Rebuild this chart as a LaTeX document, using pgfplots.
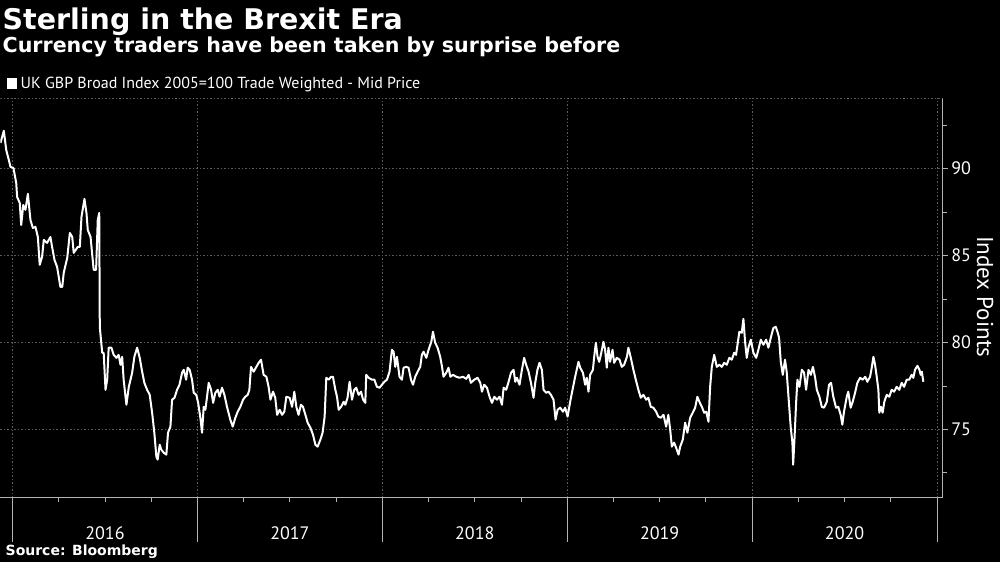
\documentclass[border=0pt]{standalone}
\usepackage{fontspec}
\setmainfont{PT Sans}
\newfontfamily\titlefont{DejaVu Sans}
\usepackage{pgfplots}
\pgfplotsset{compat=1.18}
\definecolor{gridc}{HTML}{5A5A5A}
\definecolor{axisc}{HTML}{B4B4B4}
\begin{document}
\begin{tikzpicture}
\fill[black] (0,0) rectangle (1000pt,562pt);
\begin{axis}[
  at={(0pt,64pt)}, anchor=south west,
  scale only axis, width=942.7pt, height=399.7pt,
  xmin=2015.935, xmax=2021.031, ymin=71.07, ymax=94.05,
  axis x line*=bottom, axis y line*=right,
  axis line style={axisc, line width=1pt},
  tick align=outside,
  major tick length=5pt, minor tick length=4pt,
  xtick={2016,2017,2018,2019,2020,2021},
  xticklabels={2016,2017,2018,2019,2020},
  x tick label as interval,
  minor xtick={2016.25,2016.5,2016.75,2017.25,2017.5,2017.75,2018.25,2018.5,2018.75,2019.25,2019.5,2019.75,2020.25,2020.5,2020.75},
  xtick style={axisc, line width=0.8pt, /pgfplots/major tick length=44pt},
  ytick={75,80,85,90},
  minor ytick={72.5,77.5,82.5,87.5,92.5},
  ytick style={axisc, line width=0.8pt},
  xmajorgrids, ymajorgrids,
  grid style={gridc, dash pattern=on 1.5pt off 2pt, line width=0.8pt},
  tick label style={white, font=\fontsize{18}{21}\selectfont},
  /pgf/number format/assume math mode=true,
  yticklabel style={anchor=west},
  xticklabel style={anchor=north, yshift=-20pt},
]
\addplot[white, line width=2pt, line join=round] coordinates {
(2015.935,91.48) (2015.953,92.18) (2015.966,91.07) (2015.980,90.50) (2015.989,90.10)
(2016.005,90.04) (2016.020,89.18) (2016.025,88.37) (2016.039,88.03) (2016.047,86.76)
(2016.058,87.91) (2016.070,87.63) (2016.083,88.55) (2016.097,87.05) (2016.110,86.59)
(2016.124,86.65) (2016.137,86.07) (2016.147,84.47) (2016.160,84.93) (2016.169,85.90)
(2016.187,85.73) (2016.205,86.07) (2016.214,85.50) (2016.227,84.75) (2016.241,84.35)
(2016.259,83.20) (2016.269,83.20) (2016.277,84.01) (2016.296,84.87) (2016.310,86.30)
(2016.323,86.07) (2016.331,85.16) (2016.353,85.50) (2016.364,85.50) (2016.373,87.22)
(2016.389,88.26) (2016.400,87.45) (2016.407,86.48) (2016.422,86.07) (2016.439,84.18)
(2016.452,84.18) (2016.461,87.05) (2016.469,87.45)
(2016.472,80.90) (2016.485,79.41) (2016.493,79.41) (2016.503,77.28) (2016.512,77.86)
(2016.520,79.70) (2016.535,79.70) (2016.547,79.29) (2016.562,79.12) (2016.574,79.29)
(2016.584,78.72) (2016.593,79.18) (2016.601,77.86) (2016.616,76.42) (2016.629,77.45)
(2016.647,78.26) (2016.659,79.18) (2016.674,79.70) (2016.688,79.12) (2016.701,78.32)
(2016.713,77.68) (2016.728,77.28) (2016.742,76.99) (2016.755,75.96) (2016.767,74.81)
(2016.778,73.43) (2016.785,73.26) (2016.796,74.12) (2016.805,73.83) (2016.818,73.66)
(2016.832,73.55) (2016.841,74.81) (2016.854,75.16) (2016.863,76.71) (2016.876,76.82)
(2016.890,77.28) (2016.903,77.57) (2016.917,78.26) (2016.926,78.43) (2016.939,77.86)
(2016.947,78.55) (2016.958,78.43) (2016.971,77.86) (2016.980,77.11) (2016.994,76.99)
(2017.004,76.53) (2017.016,75.67) (2017.025,74.81) (2017.034,76.30) (2017.043,76.13)
(2017.052,76.88) (2017.061,77.68) (2017.074,77.28) (2017.085,76.53) (2017.097,77.11)
(2017.110,77.28) (2017.120,76.88) (2017.133,77.40) (2017.146,76.99) (2017.160,76.30)
(2017.178,75.56) (2017.191,75.16) (2017.205,75.67) (2017.218,76.02) (2017.232,76.30)
(2017.247,76.71) (2017.259,76.88) (2017.272,76.99) (2017.281,77.28) (2017.290,78.60)
(2017.304,78.32) (2017.319,78.60) (2017.331,78.83) (2017.344,79.01) (2017.358,78.14)
(2017.373,78.03) (2017.385,77.45) (2017.395,76.71) (2017.409,77.17) (2017.421,76.82)
(2017.431,75.84) (2017.445,76.13) (2017.458,75.84) (2017.470,76.02) (2017.481,76.88)
(2017.499,76.82) (2017.512,76.30) (2017.524,77.17) (2017.535,76.30) (2017.547,75.84)
(2017.560,76.42) (2017.571,76.30) (2017.584,75.84) (2017.596,75.39) (2017.611,75.10)
(2017.625,74.70) (2017.638,74.12) (2017.650,74.01) (2017.665,74.41) (2017.677,74.81)
(2017.688,75.73) (2017.697,77.97) (2017.710,77.86) (2017.723,78.03) (2017.733,78.03)
(2017.746,77.28) (2017.755,76.88) (2017.764,76.13) (2017.777,76.30) (2017.791,76.59)
(2017.800,76.42) (2017.812,76.82) (2017.823,77.74) (2017.836,76.71) (2017.848,77.28)
(2017.859,77.40) (2017.872,76.99) (2017.885,77.17) (2017.896,76.71) (2017.908,76.53)
(2017.913,78.14) (2017.926,77.97) (2017.944,77.86) (2017.957,77.86) (2017.971,77.45)
(2017.985,77.40) (2017.998,77.57) (2018.011,77.74) (2018.025,77.86) (2018.039,78.32)
(2018.052,79.58) (2018.061,79.47) (2018.070,78.60) (2018.079,79.18) (2018.093,78.03)
(2018.106,77.86) (2018.115,78.55) (2018.129,78.60) (2018.142,78.55) (2018.155,77.86)
(2018.166,77.57) (2018.178,78.03) (2018.191,78.32) (2018.205,78.60) (2018.214,79.29)
(2018.223,79.47) (2018.238,79.12) (2018.250,79.58) (2018.265,80.04) (2018.274,80.62)
(2018.286,79.98) (2018.299,79.70) (2018.313,79.18) (2018.323,78.60) (2018.331,78.03)
(2018.346,78.26) (2018.358,78.55) (2018.368,78.03) (2018.382,78.14) (2018.400,78.03)
(2018.418,77.97) (2018.436,78.03) (2018.454,77.91) (2018.467,78.14) (2018.479,77.68)
(2018.497,77.86) (2018.515,77.97) (2018.530,77.68) (2018.539,77.17) (2018.551,77.57)
(2018.566,77.40) (2018.580,76.88) (2018.593,76.53) (2018.606,76.88) (2018.620,76.71)
(2018.634,76.88) (2018.647,76.42) (2018.656,77.40) (2018.670,77.28) (2018.683,77.74)
(2018.696,78.26) (2018.710,78.43) (2018.719,77.74) (2018.728,77.97) (2018.742,77.57)
(2018.755,78.43) (2018.767,79.12) (2018.778,78.72) (2018.791,78.32) (2018.804,77.68)
(2018.818,76.82) (2018.827,77.68) (2018.839,78.43) (2018.850,78.83) (2018.863,78.43)
(2018.872,77.28) (2018.886,77.11) (2018.899,77.17) (2018.912,76.99) (2018.926,76.71)
(2018.937,75.56) (2018.948,76.13) (2018.962,76.25) (2018.977,76.02) (2018.989,76.25)
(2019.002,75.73) (2019.016,76.59) (2019.031,77.40) (2019.043,78.03) (2019.061,78.89)
(2019.070,78.55) (2019.085,78.26) (2019.097,77.57) (2019.106,77.97) (2019.115,77.17)
(2019.124,78.14) (2019.139,78.43) (2019.146,79.18) (2019.155,79.98) (2019.164,79.18)
(2019.173,78.89) (2019.182,79.29) (2019.196,80.04) (2019.205,79.58) (2019.214,78.55)
(2019.223,79.70) (2019.232,78.89) (2019.245,79.58) (2019.254,78.83) (2019.268,79.12)
(2019.283,79.01) (2019.295,78.60) (2019.308,78.72) (2019.323,79.18) (2019.331,79.70)
(2019.344,79.12) (2019.358,78.43) (2019.371,77.86) (2019.385,77.28) (2019.398,76.82)
(2019.412,76.99) (2019.427,76.71) (2019.439,76.82) (2019.452,76.30) (2019.466,76.25)
(2019.481,76.02) (2019.493,75.73) (2019.506,75.67) (2019.521,75.84) (2019.535,75.16)
(2019.547,75.84) (2019.557,74.98) (2019.566,74.01) (2019.578,74.24) (2019.589,73.95)
(2019.602,73.55) (2019.611,74.01) (2019.625,74.41) (2019.638,75.39) (2019.650,74.81)
(2019.665,75.67) (2019.679,75.96) (2019.692,76.25) (2019.704,76.88) (2019.715,76.59)
(2019.728,76.30) (2019.741,75.96) (2019.752,76.02) (2019.764,75.44) (2019.773,77.45)
(2019.782,78.60) (2019.795,79.29) (2019.809,78.60) (2019.823,78.72) (2019.836,78.60)
(2019.849,78.83) (2019.863,78.72) (2019.877,79.12) (2019.890,79.01) (2019.903,79.41)
(2019.913,79.29) (2019.921,79.87) (2019.931,80.62) (2019.944,80.56) (2019.953,81.36)
(2019.962,80.04) (2019.971,79.12) (2019.980,79.70) (2019.993,80.16) (2020.007,79.41)
(2020.022,79.12) (2020.034,79.58) (2020.047,80.16) (2020.061,79.87) (2020.076,80.16)
(2020.088,79.70) (2020.101,80.27) (2020.115,80.84) (2020.128,80.90) (2020.137,80.62)
(2020.146,80.27) (2020.155,78.89) (2020.166,78.14) (2020.178,79.01) (2020.187,78.32)
(2020.196,76.99) (2020.209,75.10) (2020.218,74.24) (2020.222,72.97) (2020.229,74.41)
(2020.238,76.53) (2020.245,77.86) (2020.256,77.45) (2020.269,78.43) (2020.281,78.26)
(2020.292,77.28) (2020.305,78.43) (2020.318,78.14) (2020.329,78.60) (2020.341,77.97)
(2020.350,77.28) (2020.364,76.88) (2020.377,76.30) (2020.389,76.25) (2020.404,76.59)
(2020.416,77.57) (2020.427,77.68) (2020.439,76.88) (2020.454,76.25) (2020.466,76.30)
(2020.479,75.84) (2020.488,75.27) (2020.497,76.02) (2020.512,76.88) (2020.520,77.17)
(2020.533,76.25) (2020.544,76.59) (2020.557,77.11) (2020.569,77.68) (2020.584,77.97)
(2020.598,77.86) (2020.612,78.03) (2020.623,77.74) (2020.638,78.03) (2020.647,78.55)
(2020.656,79.18) (2020.665,78.72) (2020.674,78.03) (2020.683,77.28) (2020.688,75.96)
(2020.697,76.30) (2020.706,75.96) (2020.715,76.59) (2020.728,76.99) (2020.742,76.88)
(2020.755,77.28) (2020.768,77.17) (2020.782,77.45) (2020.796,77.28) (2020.809,77.68)
(2020.822,77.45) (2020.836,77.86) (2020.850,77.86) (2020.863,78.14) (2020.872,77.97)
(2020.881,78.43) (2020.894,78.66) (2020.905,78.43) (2020.912,78.14) (2020.918,78.32)
(2020.926,77.74)
};
\draw[gridc, dash pattern=on 1.5pt off 2pt, line width=0.8pt] (rel axis cs:0,1) -- (rel axis cs:1,1);
\end{axis}
\node[anchor=base west, white, inner sep=0pt, font=\titlefont\bfseries\fontsize{28.5}{30}\selectfont] at (2pt,532pt) {Sterling in the Brexit Era};
\node[anchor=base west, white, inner sep=0pt, font=\titlefont\bfseries\fontsize{20.6}{24}\selectfont] at (2pt,509pt) {Currency traders have been taken by surprise before};
\fill[white] (7pt,473pt) rectangle (17pt,484pt);
\node[anchor=base west, white, inner sep=0pt, font=\fontsize{16}{18}\selectfont] at (20pt,473pt) {UK GBP Broad Index 2005=100 Trade Weighted - Mid Price};
\node[rotate=-90, white, inner sep=0pt, font=\fontsize{23}{26}\selectfont] at (985pt,265pt) {Index Points};
\node[anchor=base west, white, inner sep=0pt, font=\titlefont\bfseries\fontsize{14}{16}\selectfont] at (5pt,6pt) {Source: Bloomberg};
\end{tikzpicture}
\end{document}
